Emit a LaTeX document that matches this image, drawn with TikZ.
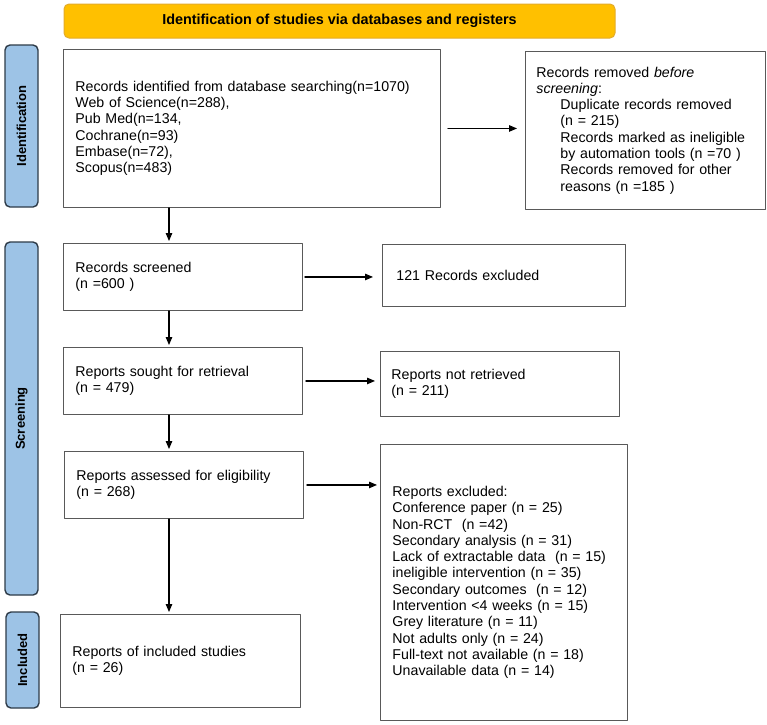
\documentclass[tikz,border=0pt]{standalone}
\usepackage{fontspec}
\setmainfont{Liberation Sans}
\usepackage{xcolor}
\usetikzlibrary{arrows.meta,calc,positioning}
\definecolor{hdrfill}{HTML}{FFC000}
\definecolor{hdrline}{HTML}{E3AC2A}
\definecolor{lblfill}{HTML}{9DC3E6}
\definecolor{lblline}{HTML}{2E3B48}
\definecolor{boxline}{HTML}{595959}
\tikzset{
  flowbox/.style={draw=boxline, line width=0.9pt, fill=white, anchor=north west, align=left,
    inner xsep=12pt, inner ysep=0pt, font=\fontsize{14.2}{16.3}\selectfont},
  phase/.style={draw=lblline, line width=1.4pt, fill=lblfill, rounded corners=5pt, rotate=90,
    minimum height=33pt, inner sep=0pt, font=\bfseries\fontsize{13}{15}\selectfont},
  flowarr/.style={line width=1.1pt, -{Triangle[length=8pt,width=6.5pt]}},
  every picture/.style={line cap=round, line join=round}
}

\begin{document}
\begin{tikzpicture}[x=1pt,y=-1pt]
  \useasboundingbox[fill=white] (0,0) rectangle (767,724);

  % header and phase labels
  \node[draw=hdrline, line width=1pt, fill=hdrfill, rounded corners=5pt, minimum width=551pt,
    minimum height=34pt, font=\bfseries\fontsize{14.4}{16}\selectfont] (hdr) at (339.5,21)
    {Identification of studies via databases and registers};
  \node[phase, minimum width=162pt] (idlbl) at (21.5,126) {Identification};
  \node[phase, minimum width=353pt] (scrlbl) at (21.5,418.5) {Screening};
  \node[phase, minimum width=96pt] (inclbl) at (22.5,660) {Included};

  % boxes
  \node[flowbox, text width=353pt, minimum height=158pt] (ident) at (63,49)
    {Records identified from database searching(n=1070)\\
     Web of Science(n=288),\\ Pub Med(n=134,\\ Cochrane(n=93)\\ Embase(n=72),\\ Scopus(n=483)};
  \node[flowbox, text width=218pt, minimum height=158pt, inner xsep=11pt] (removed) at (525,51)
    {Records removed \textit{before}\\ \textit{screening}:\\
     \hspace*{24pt}Duplicate records removed\\ \hspace*{24pt}(n = 215)\\
     \hspace*{24pt}Records marked as ineligible\\ \hspace*{24pt}by automation tools (n =70 )\\
     \hspace*{24pt}Records removed for other\\ \hspace*{24pt}reasons (n =185 )};
  \node[flowbox, text width=215pt, minimum height=67pt] (screened) at (63,243)
    {Records screened\\ (n =600 )};
  \node[flowbox, text width=215pt, minimum height=62pt, inner xsep=14pt] (excl) at (382,244)
    {121 Records excluded};
  \node[flowbox, text width=215pt, minimum height=67pt] (sought) at (63,347)
    {Reports sought for retrieval\\ (n = 479)};
  \node[flowbox, text width=217pt, minimum height=65pt, inner xsep=11pt] (notret) at (380,351)
    {Reports not retrieved\\ (n = 211)};
  \node[flowbox, text width=215pt, minimum height=67pt] (assessed) at (64,451)
    {Reports assessed for eligibility\\ (n = 268)};
  \node[flowbox, text width=223pt, minimum height=276pt] (repexcl) at (380,444)
    {Reports excluded:\\ Conference paper (n = 25)\\ Non-RCT~ (n =42)\\ Secondary analysis (n = 31)\\
     Lack of extractable data~ (n = 15)\\ ineligible intervention (n = 35)\\
     Secondary outcomes~ (n = 12)\\ Intervention <4 weeks (n = 15)\\ Grey literature (n = 11)\\
     Not adults only (n = 24)\\ Full-text not available (n = 18)\\ Unavailable data (n = 14)};
  \node[flowbox, text width=216pt, minimum height=93pt] (included) at (60,614)
    {Reports of included studies\\ (n = 26)};

  % connectors
  \coordinate (spine) at (169,0);
  \draw[flowarr, shorten <=7pt, shorten >=8pt] (ident.east)--(ident.east -| removed.west);
  \draw[flowarr, shorten <=2pt, shorten >=9pt] (screened.east)--(screened.east -| excl.west);
  \draw[flowarr, shorten <=3pt, shorten >=5pt] (sought.east)--(sought.east -| notret.west);
  \draw[flowarr, shorten <=3pt, shorten >=3pt] (assessed.east)--(assessed.east -| repexcl.west);
  \draw[flowarr, shorten >=2pt] (ident.south -| spine)--(screened.north -| spine);
  \draw[flowarr, shorten >=2pt] (screened.south -| spine)--(sought.north -| spine);
  \draw[flowarr, shorten >=2pt] (sought.south -| spine)--(assessed.north -| spine);
  \draw[flowarr, shorten >=2pt] (assessed.south -| spine)--(included.north -| spine);
\end{tikzpicture}
\end{document}
